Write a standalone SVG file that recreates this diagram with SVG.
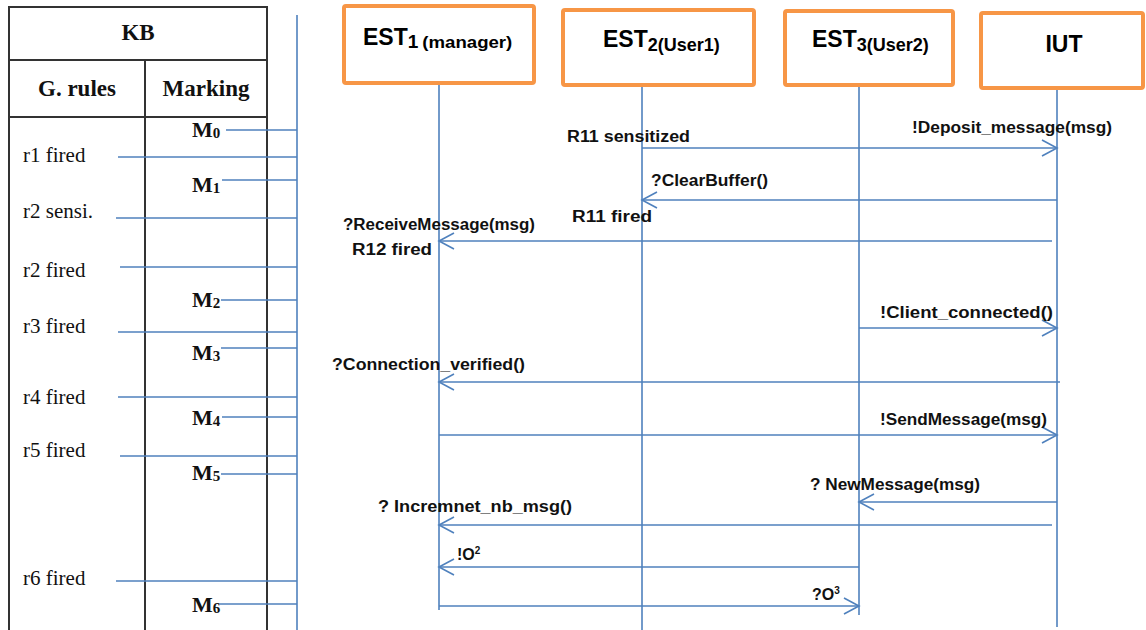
<svg xmlns="http://www.w3.org/2000/svg" width="1146" height="630" viewBox="0 0 1146 630">
<style>
.tb{fill:none;stroke:#333;stroke-width:2}
.bl{stroke:#4f81bd;stroke-width:1.6;fill:none}
.msg{stroke:#4f81bd;stroke-width:1.6;fill:none;marker-end:url(#ah)}
.box{fill:#fff;stroke:#f79646;stroke-width:4}
.ser{font-family:"Liberation Serif","Times New Roman",serif;font-size:21px;fill:#111}
.serb{font-family:"Liberation Serif","Times New Roman",serif;font-size:23px;font-weight:bold;fill:#111}
.mk{font-family:"Liberation Serif","Times New Roman",serif;font-size:22px;font-weight:bold;fill:#111}
.lbl{font-family:"Liberation Sans",Arial,sans-serif;font-size:16px;font-weight:bold;fill:#111}
.hd{font-family:"Liberation Sans",Arial,sans-serif;font-size:23px;font-weight:bold;fill:#000}
</style>
<defs>
<marker id="ah" markerUnits="userSpaceOnUse" markerWidth="18" markerHeight="20" refX="16" refY="9" orient="auto">
<path d="M1,1 L16,9 L1,17" fill="none" stroke="#4f81bd" stroke-width="1.6"/>
</marker>
</defs>

<g id="kb-table">
<path class="tb" d="M9,632 V7 H267 V632 M9,60 H267 M9,117 H267 M145,60 V632"/>
<text class="serb" x="138" y="40" text-anchor="middle">KB</text>
<text class="serb" x="77" y="96" text-anchor="middle">G. rules</text>
<text class="serb" x="206" y="96" text-anchor="middle">Marking</text>
</g>

<g id="rules">
<text class="ser" x="23" y="162">r1 fired</text>
<text class="ser" x="23" y="218">r2 sensi.</text>
<text class="ser" x="23" y="277">r2 fired</text>
<text class="ser" x="23" y="333">r3 fired</text>
<text class="ser" x="23" y="404">r4 fired</text>
<text class="ser" x="23" y="457">r5 fired</text>
<text class="ser" x="23" y="585">r6 fired</text>
</g>

<g id="markings">
<text class="mk" x="192" y="137">M<tspan font-size="15" dy="1">0</tspan></text>
<text class="mk" x="192" y="192">M<tspan font-size="15" dy="1">1</tspan></text>
<text class="mk" x="192" y="307">M<tspan font-size="15" dy="1">2</tspan></text>
<text class="mk" x="192" y="360">M<tspan font-size="15" dy="1">3</tspan></text>
<text class="mk" x="192" y="425">M<tspan font-size="15" dy="1">4</tspan></text>
<text class="mk" x="192" y="480">M<tspan font-size="15" dy="1">5</tspan></text>
<text class="mk" x="192" y="612">M<tspan font-size="15" dy="1">6</tspan></text>
</g>

<g id="kb-links">
<line class="bl" x1="297" y1="15" x2="297" y2="630"/>
<line class="bl" x1="226" y1="130" x2="297" y2="130"/>
<line class="bl" x1="118" y1="157" x2="297" y2="157"/>
<line class="bl" x1="222" y1="180" x2="297" y2="180"/>
<line class="bl" x1="116" y1="218" x2="297" y2="218"/>
<line class="bl" x1="120" y1="267" x2="297" y2="267"/>
<line class="bl" x1="221" y1="300" x2="297" y2="300"/>
<line class="bl" x1="118" y1="332" x2="297" y2="332"/>
<line class="bl" x1="221" y1="348" x2="297" y2="348"/>
<line class="bl" x1="118" y1="397" x2="297" y2="397"/>
<line class="bl" x1="222" y1="417" x2="297" y2="417"/>
<line class="bl" x1="120" y1="456" x2="297" y2="456"/>
<line class="bl" x1="221" y1="474" x2="297" y2="474"/>
<line class="bl" x1="116" y1="581" x2="297" y2="581"/>
<line class="bl" x1="219" y1="604" x2="297" y2="604"/>
</g>

<g id="lifelines">
<line class="bl" x1="439" y1="83" x2="439" y2="610"/>
<line class="bl" x1="642" y1="87" x2="642" y2="630"/>
<line class="bl" x1="859" y1="85" x2="859" y2="615"/>
<line class="bl" x1="1057" y1="88" x2="1057" y2="627"/>
</g>

<g id="est1">
<rect class="box" x="344" y="6" width="190" height="77" rx="2"/>
<text class="hd" x="363" y="45">EST<tspan font-size="19" dy="3">1</tspan><tspan font-size="16" dx="4" textLength="90" lengthAdjust="spacingAndGlyphs">(manager)</tspan></text>
</g>
<g id="est2">
<rect class="box" x="563" y="10" width="191" height="75" rx="2"/>
<text class="hd" x="603" y="47">EST<tspan font-size="18" dy="4">2(User1)</tspan></text>
</g>
<g id="est3">
<rect class="box" x="785" y="11" width="168" height="74" rx="2"/>
<text class="hd" x="812" y="47">EST<tspan font-size="18" dy="4">3(User2)</tspan></text>
</g>
<g id="iut">
<rect class="box" x="981" y="13" width="162" height="75" rx="2"/>
<text class="hd" x="1064" y="52" text-anchor="middle">IUT</text>
</g>

<g id="messages">
<line class="msg" x1="642" y1="148" x2="1057" y2="148"/>
<line class="msg" x1="1057" y1="200" x2="642" y2="200"/>
<line class="msg" x1="1052" y1="241" x2="439" y2="241"/>
<line class="msg" x1="859" y1="328" x2="1057" y2="328"/>
<line class="msg" x1="1060" y1="382" x2="439" y2="382"/>
<line class="msg" x1="439" y1="435" x2="1057" y2="435"/>
<line class="msg" x1="1057" y1="502" x2="859" y2="502"/>
<line class="msg" x1="1052" y1="525" x2="439" y2="525"/>
<line class="msg" x1="859" y1="567" x2="439" y2="567"/>
<line class="msg" x1="439" y1="606" x2="859" y2="606"/>
</g>

<g id="message-labels">
<text class="lbl" x="567" y="142" textLength="123" lengthAdjust="spacingAndGlyphs">R11 sensitized</text>
<text class="lbl" x="912" y="133" textLength="200" lengthAdjust="spacingAndGlyphs">!Deposit_message(msg)</text>
<text class="lbl" x="651" y="186" textLength="117" lengthAdjust="spacingAndGlyphs">?ClearBuffer()</text>
<text class="lbl" x="572" y="222" textLength="80" lengthAdjust="spacingAndGlyphs">R11 fired</text>
<text class="lbl" x="343" y="230" textLength="192" lengthAdjust="spacingAndGlyphs">?ReceiveMessage(msg)</text>
<text class="lbl" x="352" y="255" textLength="80" lengthAdjust="spacingAndGlyphs">R12 fired</text>
<text class="lbl" x="880" y="318" textLength="173" lengthAdjust="spacingAndGlyphs">!Client_connected()</text>
<text class="lbl" x="332" y="370" textLength="193" lengthAdjust="spacingAndGlyphs">?Connection_verified()</text>
<text class="lbl" x="880" y="425" textLength="167" lengthAdjust="spacingAndGlyphs">!SendMessage(msg)</text>
<text class="lbl" x="810" y="490" textLength="170" lengthAdjust="spacingAndGlyphs">? NewMessage(msg)</text>
<text class="lbl" x="378" y="512" textLength="194" lengthAdjust="spacingAndGlyphs">? Incremnet_nb_msg()</text>
<text class="lbl" x="457" y="560">!O<tspan font-size="10" dy="-6">2</tspan></text>
<text class="lbl" x="812" y="600">?O<tspan font-size="10" dy="-6">3</tspan></text>
</g>
</svg>
